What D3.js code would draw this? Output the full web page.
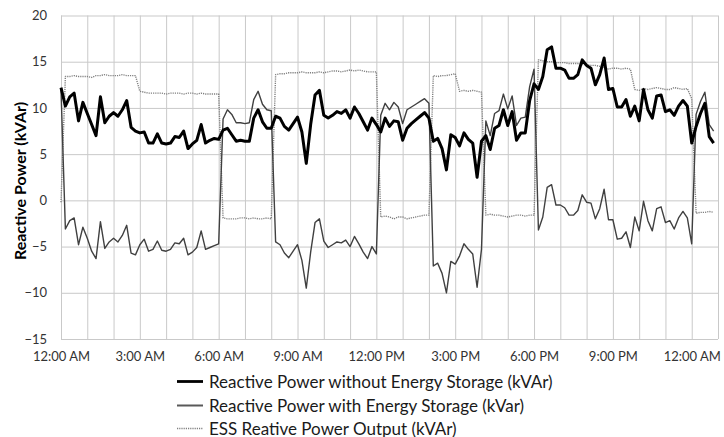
<!DOCTYPE html>
<html>
<head>
<meta charset="utf-8">
<script src="https://cdn.jsdelivr.net/npm/d3@7/dist/d3.min.js"></script>
<style>
  html, body { margin: 0; padding: 0; background: #fff; }
  svg { display: block; }
</style>
</head>
<body>
<svg id="chart" width="724" height="437"></svg>
<script>
// ---- data (10-minute samples starting 12:00 AM) ----
const stepMinutes = 10;

const withoutStorage = [
  12.2, 10.2, 11.2, 11.6, 8.6, 10.6, 9.4, 8.2, 7.0, 11.2,
  8.4, 9.1, 9.5, 9.1, 9.8, 10.8, 7.9, 7.5, 7.3, 7.4,
  6.2, 6.2, 7.2, 6.2, 6.1, 6.2, 6.9, 6.8, 7.5, 5.6,
  6.1, 6.5, 8.2, 6.2, 6.5, 6.7, 6.6, 7.6, 7.8, 7.1,
  6.4, 6.5, 6.4, 6.4, 8.9, 9.8, 8.5, 7.8, 7.8, 9.1,
  8.9, 8.0, 7.6, 8.3, 9.0, 7.4, 4.0, 8.2, 11.4, 11.9,
  9.2, 8.9, 9.2, 9.6, 9.4, 9.8, 8.9, 10.1, 9.4, 8.5,
  7.6, 8.9, 8.2, 7.4, 8.9, 8.0, 8.6, 8.5, 6.5, 7.8,
  8.3, 8.7, 9.1, 9.5, 8.9, 6.4, 6.7, 5.6, 3.3, 7.1,
  6.8, 5.9, 7.3, 6.6, 6.2, 2.5, 6.4, 7.0, 5.5, 7.8,
  8.1, 9.8, 8.1, 9.6, 6.5, 7.3, 7.3, 10.8, 12.6, 12.0,
  13.4, 16.3, 16.6, 14.3, 14.3, 14.1, 13.2, 13.2, 13.6, 15.2,
  14.6, 14.3, 12.5, 13.6, 15.4, 12.0, 12.1, 10.1, 10.1, 10.9,
  9.1, 10.2, 8.6, 12.0, 9.8, 8.9, 11.3, 11.4, 9.6, 9.8,
  9.2, 10.2, 10.8, 10.2, 6.2, 8.0, 9.4, 10.5, 6.9, 6.2
];

const withStorage = [
  12.0, -3.1, -2.2, -1.9, -4.8, -2.9, -4.1, -5.5, -6.3, -2.3,
  -5.2, -4.5, -4.1, -4.5, -3.8, -2.7, -5.7, -5.9, -4.8, -4.2,
  -5.5, -5.3, -4.4, -5.4, -5.5, -5.3, -4.6, -4.7, -4.1, -5.9,
  -5.6, -5.1, -3.3, -5.3, -5.1, -4.9, -4.7, 8.8, 9.8, 9.3,
  8.4, 8.4, 8.3, 8.4, 10.9, 11.8, 10.4, 9.8, 9.7, -4.5,
  -4.8, -5.7, -6.2, -5.5, -4.8, -6.5, -9.5, -5.6, -2.4, -2.0,
  -4.4, -5.1, -4.8, -4.5, -4.6, -4.3, -5.0, -3.9, -4.7, -5.6,
  -6.3, -5.0, -5.8, 9.2, 10.5, 9.8, 10.6, 10.1, 8.3, 9.8,
  10.1, 10.4, 10.7, 11.0, 10.5, -7.1, -6.8, -7.9, -10.0, -6.6,
  -6.9, -6.0, -4.7, -5.3, -5.8, -9.4, -5.3, 8.6, 7.0, 9.4,
  9.7, 11.5, 9.9, 11.3, 8.1, 8.9, 9.0, 12.3, 14.2, -3.2,
  -1.8, 1.4, 1.7, -0.5, -0.5, -0.8, -1.6, -1.6, -1.1, 0.6,
  -0.2, -0.3, -2.0, -0.9, 1.2, -2.1, -2.1, -4.2, -4.1, -3.4,
  -5.1, -1.8, -3.3, -0.1, -2.2, -3.3, -0.9, -0.7, -2.4, -2.2,
  -3.1, -1.9, -1.2, -1.9, -4.7, 9.3, 10.7, 11.7, 8.2, 7.5
];

const essOutput = [
  -0.2, 13.4, 13.4, 13.5, 13.4, 13.4, 13.4, 13.3, 13.5, 13.5,
  13.6, 13.5, 13.5, 13.5, 13.6, 13.5, 13.5, 13.5, 11.8, 11.7,
  11.6, 11.6, 11.6, 11.6, 11.5, 11.6, 11.6, 11.6, 11.5, 11.6,
  11.6, 11.5, 11.6, 11.5, 11.5, 11.5, 11.5, -1.9, -2.0, -2.0,
  -2.0, -1.9, -1.9, -2.0, -1.9, -2.0, -2.0, -1.9, -2.0, 13.6,
  13.7, 13.7, 13.8, 13.8, 13.8, 13.9, 13.8, 13.8, 13.8, 13.9,
  13.8, 13.9, 14.0, 14.0, 13.9, 14.0, 14.1, 14.0, 14.1, 14.0,
  13.9, 13.9, 13.9, -1.8, -1.7, -1.8, -2.0, -1.8, -1.8, -2.0,
  -1.9, -1.8, -1.7, -1.6, -1.6, 13.5, 13.4, 13.5, 13.5, 13.6,
  13.7, 11.8, 11.9, 11.8, 11.9, 11.8, 11.7, -1.6, -1.5, -1.6,
  -1.6, -1.7, -1.8, -1.7, -1.6, -1.6, -1.7, -1.6, -1.6, 15.2,
  15.1, 15.0, 15.0, 14.9, 14.9, 14.9, 14.8, 14.8, 14.8, 14.7,
  14.7, 14.6, 14.6, 14.5, 14.4, 14.2, 14.3, 14.3, 14.2, 14.3,
  14.2, 12.0, 11.9, 12.1, 12.0, 12.1, 12.2, 12.1, 12.0, 12.0,
  12.2, 12.1, 12.0, 12.1, 11.0, -1.4, -1.3, -1.3, -1.2, -1.3
];

const gridHours = d3.range(0, 26);            // vertical grid every hour, 0..25 h
const tickHours = [0, 3, 6, 9, 12, 15, 18, 21, 24];
const tickLabels = ["12:00 AM", "3:00 AM", "6:00 AM", "9:00 AM", "12:00 PM",
                    "3:00 PM", "6:00 PM", "9:00 PM", "12:00 AM"];
const yTicks = [-15, -10, -5, 0, 5, 10, 15, 20];

const seriesNames = [
  "Reactive Power without Energy Storage (kVAr)",
  "Reactive Power with Energy Storage (kVar)",
  "ESS Reative Power Output (kVAr)"
];
const yTitle = "Reactive Power (kVAr)";

// ---- layout ----
const svg = d3.select("#chart");
const plotL = 61, plotR = 718, plotT = 15.5, plotB = 339;
const x = d3.scaleLinear().domain([0, 25 * 60]).range([plotL, plotR]);
const y = d3.scaleLinear().domain([-15, 20]).range([plotB, plotT]);
const FONT = "Lato, 'Open Sans', sans-serif";
const gridColor = "#c9c9c9";

// horizontal grid + y labels
const yAxis = svg.append("g")
  .attr("transform", `translate(${plotL},0)`)
  .call(d3.axisLeft(y).tickValues(yTicks).tickSize(-(plotR - plotL)).tickPadding(14).tickFormat(d3.format("d")));
yAxis.select(".domain").remove();
yAxis.selectAll(".tick line").attr("stroke", gridColor).attr("stroke-width", 1);
yAxis.selectAll(".tick text").attr("font-family", FONT).attr("font-size", 13).attr("fill", "#333");

// vertical grid
const xGrid = svg.append("g")
  .attr("transform", `translate(0,${plotB})`)
  .call(d3.axisBottom(x).tickValues(gridHours.map(h => h * 60)).tickSize(-(plotB - plotT)).tickFormat(""));
xGrid.select(".domain").remove();
xGrid.selectAll(".tick line").attr("stroke", gridColor).attr("stroke-width", 1);

// x labels
const xAxis = svg.append("g")
  .attr("transform", `translate(0,${plotB})`)
  .call(d3.axisBottom(x).tickValues(tickHours.map(h => h * 60)).tickSize(0).tickPadding(13)
    .tickFormat((d, i) => tickLabels[i]));
xAxis.select(".domain").remove();
xAxis.selectAll(".tick text").attr("font-family", FONT).attr("font-size", 13).attr("fill", "#333");

// y title
svg.append("text")
  .attr("transform", `translate(26,181) rotate(-90)`)
  .attr("text-anchor", "middle")
  .attr("font-family", FONT).attr("font-weight", "bold").attr("font-size", 16)
  .attr("fill", "#000")
  .text(yTitle);

// ---- lines ----
const line = d3.line().x((d, i) => x(i * stepMinutes)).y(d => y(d));
const styles = [
  { data: withoutStorage, stroke: "#000000", width: 3, dash: null },
  { data: withStorage, stroke: "#404040", width: 1.4, dash: null },
  { data: essOutput, stroke: "#808080", width: 1.4, dash: "1.2,1" }
];
const drawOrder = [2, 1, 0];
drawOrder.forEach(k => {
  const s = styles[k];
  svg.append("path")
    .datum(s.data)
    .attr("fill", "none")
    .attr("stroke", s.stroke)
    .attr("stroke-width", s.width)
    .attr("stroke-linejoin", "round")
    .attr("stroke-dasharray", s.dash)
    .attr("d", line);
});

// ---- legend ----
const legendRows = [381.5, 405.5, 428.5];
seriesNames.forEach((name, k) => {
  const s = styles[k];
  const g = svg.append("g").attr("transform", `translate(0,${legendRows[k]})`);
  g.append("line")
    .attr("x1", 177).attr("x2", 203).attr("y1", 0).attr("y2", 0)
    .attr("stroke", k === 1 ? "#595959" : s.stroke)
    .attr("stroke-width", k === 0 ? 2.8 : (k === 1 ? 2 : 1.5))
    .attr("stroke-dasharray", s.dash);
  g.append("text")
    .attr("x", 209).attr("y", 6)
    .attr("font-family", FONT).attr("font-size", 17)
    .attr("fill", "#1a1a1a")
    .text(name);
});
</script>
</body>
</html>
